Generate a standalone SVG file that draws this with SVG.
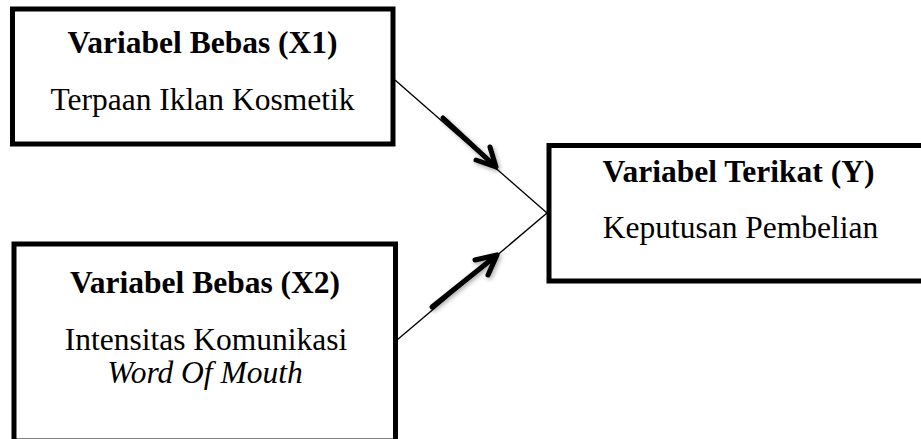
<svg xmlns="http://www.w3.org/2000/svg" width="921" height="439" viewBox="0 0 921 439">
<style>
.box{fill:#fff;stroke:#000;stroke-width:5}
.t{font-family:"Liberation Serif","Times New Roman",serif;font-size:31.5px;fill:#000;text-anchor:middle}
.b{font-weight:bold}
.i{font-style:italic}
.ln{stroke:#000;stroke-width:1.4;fill:none}
.ar{stroke:#000;stroke-width:5;fill:none;stroke-linecap:round;stroke-linejoin:round}
</style>
<defs>
<filter id="sh" x="-30%" y="-30%" width="160%" height="160%">
<feDropShadow dx="1.5" dy="2" stdDeviation="2" flood-color="#000" flood-opacity="0.35"/>
</filter>
</defs>
<rect width="921" height="439" fill="#fff"/>
<g id="connectors">
<line class="ln" x1="395" y1="80" x2="547" y2="213"/>
<line class="ln" x1="397" y1="340" x2="547" y2="213"/>
<g filter="url(#sh)">
<path class="ar" d="M443,118 L496,167 M476,160 L496,167 L490,147"/>
<path class="ar" d="M432,307 L497,255 M475,260 L497,255 L488,275"/>
</g>
</g>
<g id="x1">
<rect class="box" x="12.5" y="9" width="380.5" height="135"/>
<text class="t b" x="202.5" y="53">Variabel Bebas (X1)</text>
<text class="t" x="202.5" y="110">Terpaan Iklan Kosmetik</text>
</g>
<g id="x2">
<rect class="box" x="14" y="244" width="381.5" height="197"/>
<text class="t b" x="205" y="293">Variabel Bebas (X2)</text>
<text class="t" x="206" y="350">Intensitas Komunikasi</text>
<text class="t i" x="205" y="383">Word Of Mouth</text>
</g>
<g id="y">
<rect class="box" x="549" y="145.5" width="380" height="135.5"/>
<text class="t b" x="738.5" y="181.5">Variabel Terikat (Y)</text>
<text class="t" x="740.5" y="238">Keputusan Pembelian</text>
</g>
</svg>
